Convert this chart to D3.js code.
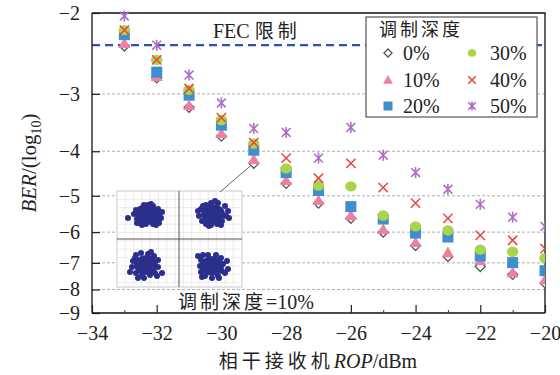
<!DOCTYPE html>
<html>
<head>
<meta charset="utf-8">
<script src="https://cdn.jsdelivr.net/npm/d3@7"></script>
<style>
  html, body { margin: 0; padding: 0; background: #fff; }
  svg { display: block; }
  .serif { font-family: "Liberation Serif", "Times New Roman", serif; }
  .cjk { font-family: "Noto Sans CJK SC", sans-serif; }
</style>
</head>
<body>
<svg id="chart" width="560" height="375"></svg>
<script>
// Received optical power (dBm)
const rop = [-33, -32, -31, -30, -29, -28, -27, -26, -25, -24, -23, -22, -21, -20];

// log10(BER) for each modulation depth
const ber0  = [-2.36, -2.77, -3.21, -3.71, -4.25, -4.70, -5.19, -5.60, -6.00, -6.42, -6.78, -7.13, -7.42, -7.74];
const ber10 = [-2.33, -2.75, -3.18, -3.66, -4.17, -4.63, -5.12, -5.52, -5.92, -6.32, -6.65, -6.92, -7.35, -7.62];
const ber20 = [-2.23, -2.69, -3.02, -3.51, -3.98, -4.45, -4.87, -5.28, -5.62, -6.03, -6.15, -6.76, -6.99, -7.28];
const ber30 = [-2.18, -2.53, -2.94, -3.42, -3.85, -4.36, -4.75, -4.77, -5.52, -5.83, -5.95, -6.55, -6.62, -6.84];
const ber40 = [-2.18, -2.53, -2.92, -3.38, -3.83, -4.14, -4.58, -4.25, -4.80, -5.19, -5.60, -6.10, -6.25, -6.52];
const ber50 = [-2.03, -2.35, -2.73, -3.14, -3.57, -3.64, -4.14, -3.55, -4.08, -4.45, -4.84, -5.22, -5.57, -5.83];

const depthLabels = ["0%", "10%", "20%", "30%", "40%", "50%"];
const fecLimit = -2.35;

const xTicksMajor = [-34, -32, -30, -28, -26, -24, -22, -20];
const xTicksMinor = [-33, -31, -29, -27, -25, -23, -21];
const yTicks = [-2, -3, -4, -5, -6, -7, -8, -9];

// Constellation cluster centres (inset pixels relative to inset origin) and dot offsets
const clusterCenters = [[31, 24], [96, 23], [29, 74], [95, 75]];
const clusterDots = [
  [[-20,3],[-12,-5],[-11,4],[-9,8],[-5,-8],[0,-10],[5,-9],[10,-6],[12,-2],[13,3],[10,7],[5,9],[-2,9],[-8,-6],[-11,8],[8,10],[-14,-1],[3,-11],[11,8],[-4,-10],[14,-3],[-6,10]],
  [[-12,-5],[-14,2],[-11,7],[-7,10],[-2,11],[4,10],[9,7],[13,2],[15,-3],[12,-8],[5,-11],[-2,-11],[-7,-9],[16,4],[-15,-3],[8,11],[-4,12],[2,-13],[-10,-8]],
  [[-10,-10],[-5,-12],[2,-11],[8,-9],[12,-5],[12,2],[9,8],[4,10],[-4,10],[-10,8],[-14,2],[-13,-4],[-16,7],[-8,13],[11,11],[16,8],[-2,13],[-11,-7],[5,-13]],
  [[-14,-10],[-11,-6],[-12,0],[-11,6],[-7,10],[0,12],[6,10],[10,5],[11,-2],[9,-8],[4,-11],[-4,-11],[15,-5],[13,7],[-9,-11],[16,3],[-10,11],[7,12]]
];

const W = 560, H = 375;
const margin = { left: 92, right: 15, top: 13, bottom: 62 };
const plotL = margin.left, plotR = W - margin.right, plotT = margin.top, plotB = H - margin.bottom;

const svg = d3.select("#chart");

const x = d3.scaleLinear().domain([-34, -20]).range([plotL, plotR]);
// BER axis: logarithmic in |log10(BER)|
const yMag = d3.scaleLog().domain([2, 9]).range([plotT, plotB]);
const y = v => yMag(-v);

// Gridlines
svg.append("g").selectAll("line")
  .data(yTicks.filter(t => t !== -2 && t !== -9))
  .join("line")
  .attr("x1", plotL).attr("x2", plotR)
  .attr("y1", d => y(d)).attr("y2", d => y(d))
  .attr("stroke", "#b0b0b0").attr("stroke-width", 1)
  .attr("stroke-dasharray", "3,2");

// Frame (top and right)
svg.append("path")
  .attr("d", `M${plotL},${plotT}H${plotR}V${plotB}`)
  .attr("fill", "none").attr("stroke", "#111").attr("stroke-width", 1.3);

// FEC limit
svg.append("line")
  .attr("x1", plotL).attr("x2", plotR)
  .attr("y1", y(fecLimit)).attr("y2", y(fecLimit))
  .attr("stroke", "#2f52b5").attr("stroke-width", 2.4)
  .attr("stroke-dasharray", "8,5");

svg.append("text").attr("x", 213).attr("y", 38)
  .attr("font-size", 20).attr("fill", "#222")
  .html('<tspan class="serif">FEC</tspan><tspan class="cjk" dx="5" font-size="19" letter-spacing="4">限制</tspan>');

// Marker shapes
const colors = ["#555555", "#ef7fa3", "#3f8fd0", "#a9d44c", "#ee4343", "#b06ec8"];
function drawMarker(g, k, cx, cy, s) {
  const c = colors[k];
  if (k === 0) {
    const r = s * 0.45;
    g.append("path").attr("d", `M${cx},${cy - r}L${cx + r},${cy}L${cx},${cy + r}L${cx - r},${cy}Z`)
      .attr("fill", "#fff").attr("stroke", c).attr("stroke-width", 1.3);
  } else if (k === 1) {
    const r = s * 0.55;
    g.append("path").attr("d", `M${cx},${cy - r}L${cx + r},${cy + r * 0.75}L${cx - r},${cy + r * 0.75}Z`)
      .attr("fill", c);
  } else if (k === 2) {
    const r = s * 0.5;
    g.append("rect").attr("x", cx - r).attr("y", cy - r).attr("width", 2 * r).attr("height", 2 * r)
      .attr("fill", c);
  } else if (k === 3) {
    g.append("ellipse").attr("cx", cx).attr("cy", cy).attr("rx", s * 0.52).attr("ry", s * 0.47)
      .attr("fill", c);
  } else if (k === 4) {
    const r = s * 0.42;
    g.append("path").attr("d", `M${cx - r},${cy - r}L${cx + r},${cy + r}M${cx - r},${cy + r}L${cx + r},${cy - r}`)
      .attr("stroke", c).attr("stroke-width", 1.5).attr("fill", "none");
  } else {
    const r = s * 0.5;
    const d = r * 0.8;
    g.append("path").attr("d", `M${cx},${cy - r}V${cy + r}M${cx - d},${cy - d}L${cx + d},${cy + d}M${cx - d},${cy + d}L${cx + d},${cy - d}`)
      .attr("stroke", c).attr("stroke-width", 1.6).attr("fill", "none");
  }
}

// Data markers (clipped to the plot area)
svg.append("clipPath").attr("id", "plotClip")
  .append("rect").attr("x", plotL).attr("y", 0).attr("width", plotR - plotL).attr("height", plotB);

const series = [ber0, ber10, ber20, ber30, ber40, ber50];
const markG = svg.append("g").attr("clip-path", "url(#plotClip)");
series.forEach((vals, k) => {
  const g = markG.append("g");
  vals.forEach((v, i) => drawMarker(g, k, x(rop[i]), y(v), 11));
});

// Left axis
const yAxis = d3.axisLeft(yMag)
  .tickValues(yTicks.map(t => -t))
  .tickFormat(d => "\u2212" + d)
  .tickSize(-8).tickPadding(12);
const yg = svg.append("g").attr("transform", `translate(${plotL},0)`).call(yAxis);
yg.select(".domain").attr("stroke", "#111").attr("stroke-width", 1.3).attr("d", `M0,${plotT}V${plotB}`);
yg.selectAll(".tick line").attr("stroke", "#222").attr("stroke-width", 1.2);
yg.selectAll(".tick text").attr("class", "serif").attr("font-size", 20).attr("fill", "#222");

// Bottom axis: major and minor ticks
const xAxis = d3.axisBottom(x).tickValues(xTicksMajor)
  .tickFormat(d => "\u2212" + Math.abs(d)).tickSize(-8).tickPadding(13);
const xg = svg.append("g").attr("transform", `translate(0,${plotB})`).call(xAxis);
xg.select(".domain").attr("stroke", "#111").attr("stroke-width", 1.3).attr("d", `M${plotL},0H${plotR}`);
xg.selectAll(".tick line").attr("stroke", "#222").attr("stroke-width", 1.2);
xg.selectAll(".tick text").attr("class", "serif").attr("font-size", 20).attr("fill", "#222");
const xMinor = d3.axisBottom(x).tickValues(xTicksMinor).tickFormat("").tickSize(-3);
const xmg = svg.append("g").attr("transform", `translate(0,${plotB})`).call(xMinor);
xmg.select(".domain").remove();
xmg.selectAll(".tick line").attr("stroke", "#333").attr("stroke-width", 1);

// Legend
const lg = svg.append("g");
lg.append("rect").attr("x", 366).attr("y", 17).attr("width", 171).attr("height", 100)
  .attr("fill", "#fff").attr("stroke", "#555").attr("stroke-width", 1.2);
lg.append("text").attr("class", "cjk").attr("x", 379).attr("y", 36)
  .attr("font-size", 18).attr("letter-spacing", 3).attr("fill", "#222").text("调制深度");
const legPos = [[388, 53], [388, 80], [388, 106], [472, 53], [472, 80], [472, 106]];
const legIdx = [0, 1, 2, 3, 4, 5];
legIdx.forEach(k => {
  const [lx, ly] = legPos[k];
  drawMarker(lg, k, lx, ly, k === 3 ? 8 : 9);
  lg.append("text").attr("class", "serif").attr("x", lx + (k < 3 ? 15 : 18)).attr("y", ly + 7)
    .attr("font-size", 20).attr("fill", "#222").text(depthLabels[k]);
});

// Constellation inset
const inset = { x: 117, y: 191, w: 125, h: 96 };
const ig = svg.append("g").attr("transform", `translate(${inset.x},${inset.y})`);
ig.append("rect").attr("width", inset.w).attr("height", inset.h).attr("fill", "#fff")
  .attr("stroke", "#c8c8c8").attr("stroke-width", 1);
const gridStep = 8.3;
const gx = d3.range(gridStep, inset.w, gridStep);
const gy = d3.range(gridStep, inset.h, gridStep);
ig.append("g").selectAll("line").data(gx).join("line")
  .attr("x1", d => d).attr("x2", d => d).attr("y1", 0).attr("y2", inset.h)
  .attr("stroke", "#e6e6e6").attr("stroke-width", 0.8);
ig.append("g").selectAll("line").data(gy).join("line")
  .attr("y1", d => d).attr("y2", d => d).attr("x1", 0).attr("x2", inset.w)
  .attr("stroke", "#e6e6e6").attr("stroke-width", 0.8);
ig.append("line").attr("x1", 62).attr("x2", 62).attr("y1", 0).attr("y2", inset.h)
  .attr("stroke", "#555").attr("stroke-width", 1);
ig.append("line").attr("x1", 0).attr("x2", inset.w).attr("y1", 48).attr("y2", 48)
  .attr("stroke", "#555").attr("stroke-width", 1);
clusterCenters.forEach((c, i) => {
  const cg = ig.append("g").attr("fill", "#2b2f8c");
  cg.append("ellipse").attr("cx", c[0]).attr("cy", c[1]).attr("rx", 12).attr("ry", 10);
  cg.selectAll("circle").data(clusterDots[i]).join("circle")
    .attr("cx", d => c[0] + d[0]).attr("cy", d => c[1] + d[1]).attr("r", 3);
});

// Pointer from inset to the 10% point at -29 dBm
svg.append("line").attr("x1", 220).attr("y1", 192)
  .attr("x2", x(-29) - 3).attr("y2", y(ber10[4]) + 6)
  .attr("stroke", "#666").attr("stroke-width", 1);

// Inset caption
svg.append("rect").attr("x", 177).attr("y", 290).attr("width", 156).attr("height", 22).attr("fill", "#fff");
svg.append("text").attr("x", 178).attr("y", 309).attr("font-size", 20).attr("fill", "#222")
  .html('<tspan class="cjk" font-size="19" letter-spacing="3">调制深度</tspan><tspan class="serif">=10%</tspan>');

// Axis titles
svg.append("text").attr("x", 318).attr("y", 368).attr("text-anchor", "middle")
  .attr("font-size", 20).attr("fill", "#222")
  .html('<tspan class="cjk" font-size="19" letter-spacing="4">相干接收机</tspan><tspan class="serif" font-style="italic">ROP</tspan><tspan class="serif">/dBm</tspan>');

svg.append("text").attr("transform", "translate(36,163) rotate(-90)").attr("text-anchor", "middle")
  .attr("class", "serif").attr("font-size", 21).attr("fill", "#222")
  .html('<tspan font-style="italic">BER</tspan>/(log<tspan font-size="14" dy="5">10</tspan><tspan dy="-5">)</tspan>');
</script>
</body>
</html>
